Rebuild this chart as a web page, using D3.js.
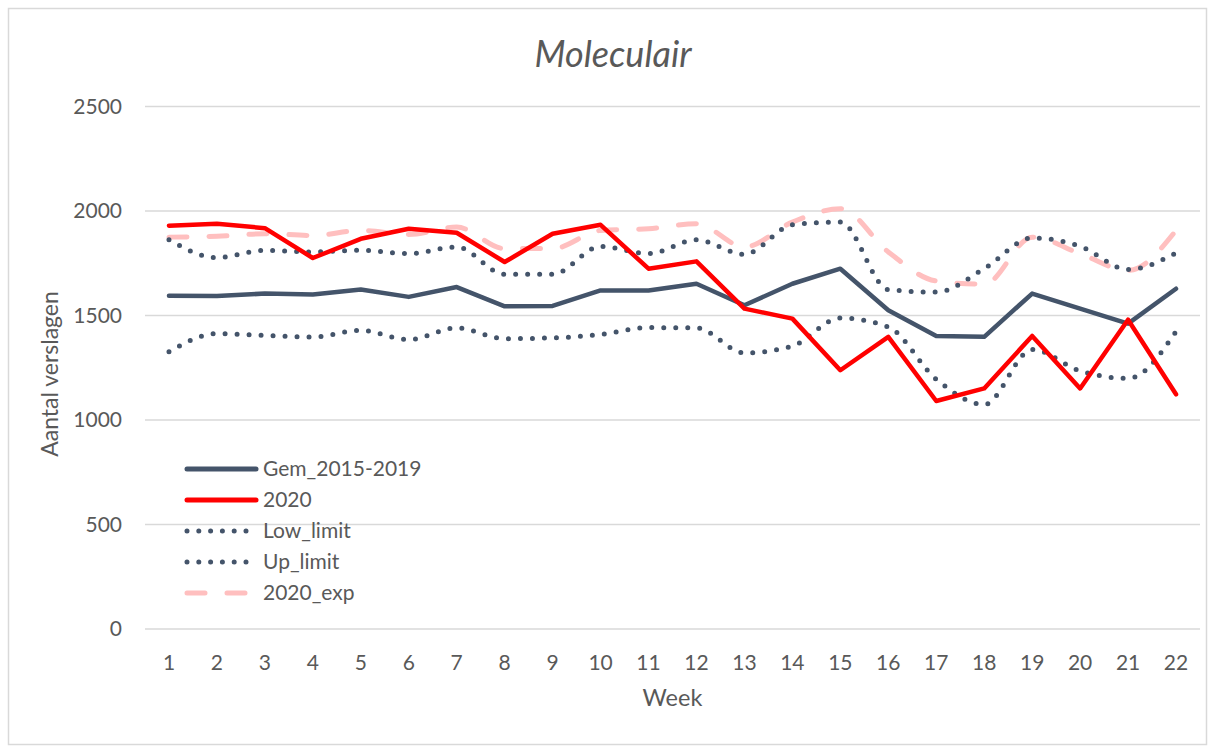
<!DOCTYPE html>
<html>
<head>
<meta charset="utf-8">
<script src="https://cdn.jsdelivr.net/npm/d3@7"></script>
<style>
  body { margin: 0; background: #fff; }
  text { font-family: Lato, "Open Sans", sans-serif; fill: #595959; }
</style>
</head>
<body>
<svg id="chart" width="1214" height="751"></svg>
<script>
// --- Data ---
const weeks = ["1","2","3","4","5","6","7","8","9","10","11","12","13","14","15","16","17","18","19","20","21","22"];
const gem = [1595,1593,1605,1601,1624,1589,1636,1544,1546,1620,1620,1652,1549,1652,1724,1525,1402,1398,1605,1533,1461,1628];
const y2020 = [1930,1939,1918,1775,1867,1915,1896,1756,1891,1934,1724,1759,1533,1485,1238,1398,1091,1151,1402,1151,1480,1123];
const lowLimit = [1326,1413,1405,1397,1429,1385,1441,1389,1393,1409,1442,1441,1321,1354,1488,1445,1195,1074,1337,1235,1199,1424];
const upLimit = [1862,1777,1812,1804,1812,1796,1828,1697,1697,1831,1796,1862,1793,1934,1947,1624,1612,1724,1871,1831,1720,1799];
const exp2020 = [1875,1879,1891,1883,1907,1888,1923,1820,1820,1907,1915,1939,1828,1947,2011,1804,1665,1650,1875,1796,1716,1907];
const yTicks = [0, 500, 1000, 1500, 2000, 2500];

const series = [
  { name: "Gem_2015-2019", values: gem, color: "#44546a", dash: null, curve: d3.curveLinear },
  { name: "2020", values: y2020, color: "#ff0000", dash: null, curve: d3.curveLinear },
  { name: "Low_limit", values: lowLimit, color: "#44546a", dash: "0 12", curve: d3.curveMonotoneX },
  { name: "Up_limit", values: upLimit, color: "#44546a", dash: "0 12", curve: d3.curveMonotoneX },
  { name: "2020_exp", values: exp2020, color: "#ffbfbf", dash: "18 22", curve: d3.curveMonotoneX }
];
// drawing order: limits and expected behind the main lines
const drawOrder = [4, 2, 3, 0, 1];

// --- Layout ---
const margin = { top: 106.5, right: 14, bottom: 122, left: 145 };
const W = 1214, H = 751;
const svg = d3.select("#chart");

// Outer border
svg.append("rect").attr("x", 8.5).attr("y", 8.5).attr("width", W - 16).attr("height", H - 15)
  .attr("fill", "none").attr("stroke", "#d9d9d9").attr("stroke-width", 1.5);

const x = d3.scaleBand().domain(weeks).range([margin.left, W - margin.right]);
const y = d3.scaleLinear().domain([0, 2500]).range([H - margin.bottom, margin.top]);
const cx = d => x(d) + x.bandwidth() / 2;

// Grid
svg.append("g").selectAll("line").data(yTicks).join("line")
  .attr("x1", margin.left).attr("x2", W - margin.right)
  .attr("y1", d => y(d)).attr("y2", d => y(d))
  .attr("stroke", "#d9d9d9").attr("stroke-width", 1.5);

// Y tick labels
svg.append("g").selectAll("text").data(yTicks).join("text")
  .attr("x", 122).attr("y", d => y(d)).attr("dy", "0.35em")
  .attr("text-anchor", "end").style("font-size", "21px").text(d => d);

// X tick labels
svg.append("g").selectAll("text").data(weeks).join("text")
  .attr("x", d => cx(d)).attr("y", 663).attr("dy", "0.35em")
  .attr("text-anchor", "middle").style("font-size", "21px").text(d => d);

// Axis titles
svg.append("text").attr("x", (margin.left + W - margin.right) / 2).attr("y", 698).attr("dy", "0.35em")
  .attr("text-anchor", "middle").style("font-size", "23.5px").text("Week");
svg.append("text").attr("transform", "translate(50,374) rotate(-90)").attr("dy", "0.35em")
  .attr("text-anchor", "middle").style("font-size", "23px").text("Aantal verslagen");

// Title
svg.append("text").attr("x", 613).attr("y", 54).attr("dy", "0.35em")
  .attr("text-anchor", "middle").style("font-size", "36px").style("font-style", "italic").text("Moleculair");

// Lines
drawOrder.forEach(i => {
  const s = series[i];
  const line = d3.line().x((d, j) => cx(weeks[j])).y(d => y(d)).curve(s.curve);
  svg.append("path").datum(s.values)
    .attr("d", line)
    .attr("fill", "none")
    .attr("stroke", s.color)
    .attr("stroke-width", s.dash ? 5 : 4.5)
    .attr("stroke-linecap", "round")
    .attr("stroke-linejoin", "round")
    .attr("stroke-dasharray", s.dash);
});

// Legend
const legend = svg.append("g");
series.forEach((s, i) => {
  const ly = 469 + i * 31;
  legend.append("line")
    .attr("x1", 187).attr("x2", 256).attr("y1", ly).attr("y2", ly)
    .attr("stroke", s.color).attr("stroke-width", 5)
    .attr("stroke-linecap", "round")
    .attr("stroke-dasharray", s.dash === "0 12" ? "0 11.8" : s.dash);
  legend.append("text").attr("x", 263).attr("y", ly).attr("dy", "0.35em")
    .style("font-size", "21px").text(s.name);
});
</script>
</body>
</html>
